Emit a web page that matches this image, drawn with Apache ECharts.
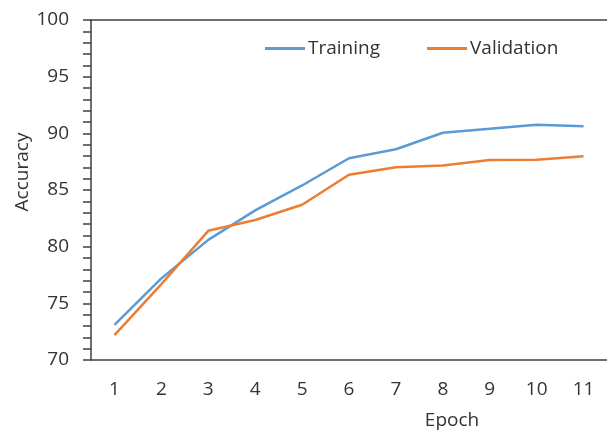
<!DOCTYPE html>
<html>
<head>
<meta charset="utf-8">
<script src="https://cdn.jsdelivr.net/npm/echarts@6/dist/echarts.min.js"></script>
<style>html,body{margin:0;padding:0;background:#fff;}#c{width:607px;height:432px;}</style>
</head>
<body>
<div id="c"></div>
<script>
const epochs = ['1','2','3','4','5','6','7','8','9','10','11'];
const training = [73.1, 77.2, 80.6, 83.2, 85.4, 87.8, 88.6, 90.05, 90.4, 90.76, 90.62];
const validation = [72.2, 76.7, 81.4, 82.35, 83.7, 86.35, 87.0, 87.17, 87.65, 87.67, 87.97];
const yTicks = { min: 70, max: 100, interval: 5 };

const FONT = '"Open Sans"';
const TXT = '#333333';
const FS = 19;
const chart = echarts.init(document.getElementById('c'), null, { renderer: 'canvas' });
chart.setOption({
  animation: false,
  backgroundColor: '#fff',
  textStyle: { fontFamily: FONT },
  grid: { left: 91, top: 20, width: 528, height: 340, containLabel: false },
  legend: {
    left: 260, top: 34,
    itemWidth: 40, itemHeight: 3, itemGap: 47,
    icon: 'rect',
    textStyle: { fontFamily: FONT, fontSize: FS, color: TXT, padding: [0, 0, 0, -2] },
    data: ['Training', 'Validation']
  },
  xAxis: [{
    type: 'category', data: epochs, boundaryGap: true,
    axisLine: { lineStyle: { color: '#404040', width: 1.5 } },
    axisTick: { show: false },
    axisLabel: { fontFamily: FONT, fontSize: FS, color: TXT, margin: 20 },
    splitLine: { show: false }
  }, {
    type: 'category', data: epochs, position: 'top', boundaryGap: true,
    axisLine: { lineStyle: { color: '#404040', width: 1.5 } },
    axisTick: { show: false }, axisLabel: { show: false }, splitLine: { show: false }
  }],
  yAxis: {
    type: 'value', min: yTicks.min, max: yTicks.max, interval: yTicks.interval,
    axisLine: { show: true, lineStyle: { color: '#404040', width: 1.5 } },
    axisTick: { show: true, length: 8, lineStyle: { color: '#404040', width: 1.5 } },
    minorTick: { show: true, splitNumber: 5, length: 8, lineStyle: { color: '#404040', width: 1.5 } },
    axisLabel: { fontFamily: FONT, fontSize: FS, color: TXT, margin: 22 },
    splitLine: { show: false }
  },
  graphic: [
    { type: 'text', x: 23, y: 172, rotation: Math.PI / 2, style: { text: 'Accuracy', font: FS + 'px ' + FONT, fill: TXT, align: 'center', verticalAlign: 'middle' } },
    { type: 'text', x: 452, y: 421, style: { text: 'Epoch', font: FS + 'px ' + FONT, fill: TXT, align: 'center', verticalAlign: 'middle' } }
  ],
  series: [
    { name: 'Training', type: 'line', data: training, symbol: 'none', color: '#5B9BD5', lineStyle: { width: 2.5 } },
    { name: 'Validation', type: 'line', data: validation, symbol: 'none', color: '#ED7D31', lineStyle: { width: 2.5 } }
  ]
});
</script>
</body>
</html>
